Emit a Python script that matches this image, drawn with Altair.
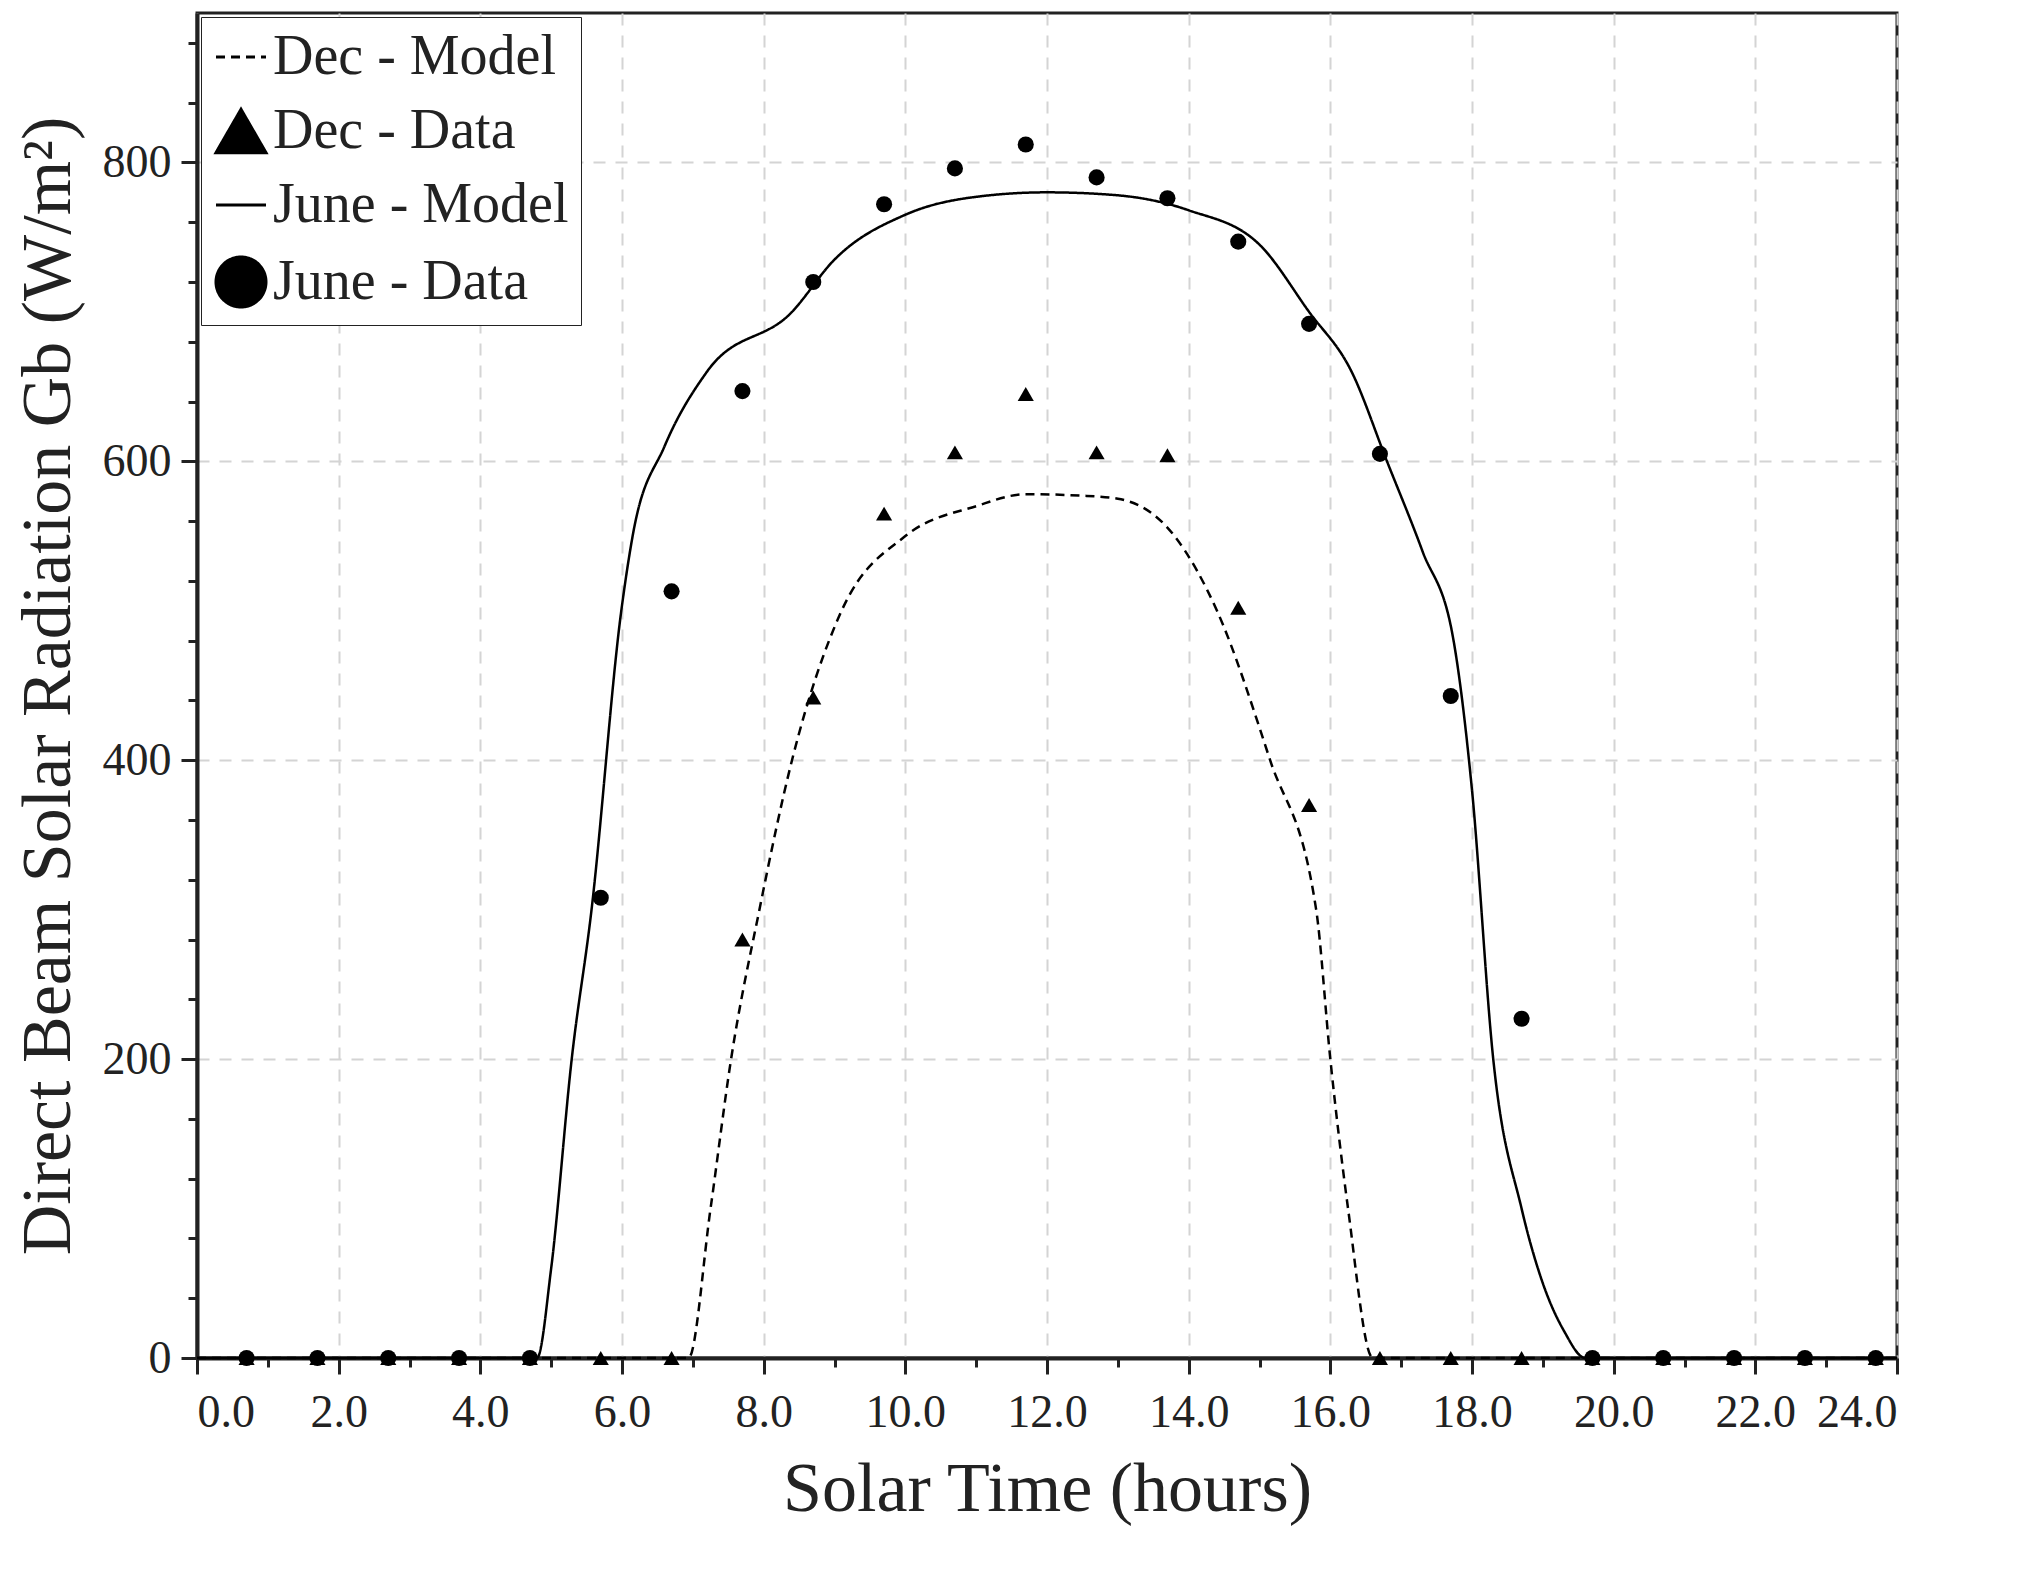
import altair as alt
import pandas as pd

hours = [h + 0.7 for h in range(24)]
june_data = [0,0,0,0,0,308,513,647,720,772,796,812,790,776,747,692,605,443,227,0,0,0,0,0]
dec_data = [0,0,0,0,0,0,0,280,442,565,606,645,606,604,502,370,0,0,0,0,0,0,0,0]

june_mx = [0,4.8,5.0,5.29,5.57,5.99,6.15,6.6,7.2,8.4,9.0,10.0,11.0,12.0,13.0,14.0,15.0,15.7,16.3,16.8,17.3,17.74,18.0,18.3,18.7,19.0,19.3,19.6,24]
june_my = [0,0,60,200,300,500,550,610,660,700,735,765,777,780,778,768,745,700,660,600,540,480,380,200,100,50,18,0,0]
dec_mx = [0,6.94,7.25,7.54,7.94,8.4,9.1,10.0,11.0,11.7,12.5,13.0,13.8,14.4,15.15,15.8,16.0,16.25,16.6,24]
dec_my = [0,0,100,200,300,400,500,550,570,578,577,575,550,500,400,300,200,100,0,0]

order = ["Dec - Model", "Dec - Data", "June - Model", "June - Data"]

lines = pd.concat([
    pd.DataFrame({"x": dec_mx, "y": dec_my, "series": "Dec - Model"}),
    pd.DataFrame({"x": june_mx, "y": june_my, "series": "June - Model"}),
])
pts = pd.concat([
    pd.DataFrame({"x": hours, "y": dec_data, "series": "Dec - Data"}),
    pd.DataFrame({"x": hours, "y": june_data, "series": "June - Data"}),
])

font = "Liberation Serif"
xs = alt.Scale(domain=[0, 24], nice=False, zero=False)
ys = alt.Scale(domain=[0, 900], nice=False)

leg = dict(title=None, orient="top-left", labelFont=font, labelFontSize=56, labelColor="#222",
           symbolSize=2500, symbolStrokeWidth=3, strokeColor="#222", fillColor="white",
           padding=12, rowPadding=18, offset=4, labelLimit=600)
shape = alt.Shape("series:N", scale=alt.Scale(domain=order, range=["stroke", "triangle-up", "stroke", "circle"]),
                  legend=alt.Legend(symbolFillColor="black", **leg))
dash = alt.StrokeDash("series:N", scale=alt.Scale(domain=order, range=[[9, 6], [1, 0], [1, 0], [1, 0]]),
                      legend=alt.Legend(**leg))

def cond(test, a, b):
    return {"condition": {"test": test, "value": a}, "value": b}

common = dict(titleFont=font, titleFontSize=70, titleFontWeight="normal", titleColor="#222",
              labelFont=font, labelFontSize=46, labelColor="#222", tickColor="#222", tickWidth=3,
              domainColor="#222", domainWidth=4, grid=True, gridDash=[12, 10], gridColor="#d4d4d4",
              gridWidth=2, labelOverlap=False)

xax = alt.Axis(values=[i * 0.5 for i in range(49)], title="Solar Time (hours)", titlePadding=20, labelPadding=16,
               labelExpr="datum.value % 2 === 0 ? datum.label : ''",
               tickSize=cond("datum.value % 2 === 0", 16, 9),
               gridOpacity=cond("datum.value % 2 === 0", 1, 0), **common)
yax = alt.Axis(values=list(range(0, 901, 20)), title="Direct Beam Solar Radiation Gb (W/m²)", titlePadding=18,
               labelPadding=10, labelExpr="datum.value % 100 === 0 ? datum.label : ''",
               tickSize=cond("datum.value % 100 === 0", 16, 9),
               gridOpacity=cond("datum.value % 100 === 0", 1, 0), **common)

line_layer = alt.Chart(lines).mark_line(color="black", strokeWidth=2.5, interpolate="monotone").encode(
    x=alt.X("x:Q", scale=xs, axis=xax), y=alt.Y("y:Q", scale=ys, axis=yax),
    strokeDash=dash, shape=shape, detail="series:N")
pt_layer = alt.Chart(pts).mark_point(filled=True, color="black", size=260, opacity=1).encode(
    x=alt.X("x:Q", scale=xs), y=alt.Y("y:Q", scale=ys), shape=shape, strokeDash=dash)

chart = alt.layer(line_layer, pt_layer).properties(
    width=1700, height=1345, background="white"
).configure_view(stroke="#222", strokeWidth=3)

chart.save("out.html", embed_options={"renderer": "svg", "actions": False})
